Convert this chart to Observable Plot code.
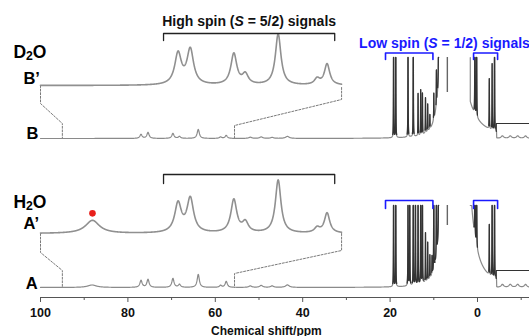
<!DOCTYPE html>
<html><head><meta charset="utf-8">
<script src="https://cdn.jsdelivr.net/npm/d3@7"></script>
<script src="https://cdn.jsdelivr.net/npm/@observablehq/plot@0.6"></script>
<style>html,body{margin:0;padding:0;background:#fff;overflow:hidden}</style>
</head><body><div id="chart"></div>
<script>
// ---------------- data ----------------
const majorTicks = [100, 80, 60, 40, 20, 0];
const minorTicks = [90, 70, 50, 30, 10, -10];
const sampleLabels = ["D₂O", "B’", "B", "H₂O", "A’", "A"];
const bracketLabels = ["High spin (S = 5/2) signals", "Low spin (S = 1/2) signals"];
const axisTitle = "Chemical shift/ppm";

// high-spin (S = 5/2) lines: position (ppm), half width (ppm), heights
const hsPpm     = [88.2, 77.0, 75.4, 69.7, 68.2, 63.9, 58.8, 57.5, 52.0, 49.5, 47.0, 43.5];
const hsWidth   = [1.2, 0.3, 0.3, 0.3, 0.3, 0.3, 0.3, 0.3, 0.4, 0.4, 0.4, 0.5];
const hsHeightB = [0, 4, 6, 5, 2, 9, 1.5, 3, 1.2, 1.5, 1, 2];
const hsHeightA = [2.5, 7, 8, 9, 3, 13, 2, 6, 1.5, 2, 1.5, 2.5];

// expanded traces B' and A' (window 95 – 55.6 ppm)
const expandWindow = [95, 55.6];
const expWidth   = [1.1, 0.52, 0.52, 0.47, 0.47, 0.44, 0.42, 0.42];
const expHeightB = [0, 31, 35, 31, 10, 51, 6, 21];
const expHeightA = [13, 29, 34, 33, 10, 53, 5, 20];

// low-spin (S = 1/2) lines (tall ones run off scale)
const lsPpm     = [19.2, 18.7, 15.9, 15.5, 14.7, 14.2, 13.6, 13.0, 12.6, 11.9, 11.4, 10.9, 10.4, 10.0, 9.4, 8.9, 0.6, 0.2, -2.7, -3.35, -3.9];
const lsHeightB = [120, 120, 120, 0, 120, 0, 42, 45, 41, 35, 27, 14, 0, 26, 34, 120, 120, 120, 50, 66, 120];
const lsHeightA = [120, 120, 120, 120, 120, 120, 120, 120, 120, 49, 38, 23, 18, 120, 120, 120, 120, 120, 50, 120, 120];
const lsWidth = 0.03;

// solvent wings either side of the blanked window (8.9 – 1.65 ppm)
const blankWindow = [8.9, 1.65];
const wingPpmB = [8.0, 5.8], wingWidthB = [0.8, 1.5], wingHeightB = [138, 320];
const wingPpmA = [8.0, 3.5], wingWidthA = [0.8, 1.2], wingHeightA = [130, 350];

// small lines high-field of -4.4 ppm
const tailPpm = [-5.7, -7.5, -9.2, -11.0];
const tailWidth = 0.35;
const tailHeightB = [2.5, 2.5, 2.5, 2.5];
const tailHeightA = [3, 3, 3, 3];

// off-scale step trace and truncated line
const stepPpm = [-4.3, -4.3, -11.9];
const stepHeightB = [7, 15, 15];
const stepHeightA = [9, 17, 17];
const truncPpm = 6.9;
const truncB = [46, 81];
const truncA = [62, 82];

// bracket windows (ppm)
const hsBracketPpm = [78.9, 56.5];            // in expanded window coordinates
const lsBracketPpm = [[21.05, 10.2], [0.9, -4.6]];

// ---------------- helpers ----------------
const K = (100 - 31.1) / (expandWindow[0] - expandWindow[1]);
const disp = p => 100 - (expandWindow[0] - p) * K;

function lorentz(p, pos, wid, hts) {
  let s = 0;
  for (let i = 0; i < pos.length; i++) {
    const h = hts[i]; if (!h) continue;
    const w = Array.isArray(wid) ? wid[i] : wid;
    const d = (p - pos[i]) / w;
    s += h / (1 + d * d);
  }
  return s;
}
function grid(from, to, step, extra = []) {
  const n = Math.round((from - to) / step);
  const pts = d3.range(n + 1).map(i => from - i * step);
  for (const e of extra) if (e <= from && e >= to) pts.push(e);
  return Array.from(new Set(pts.map(v => +v.toFixed(4)))).sort((a, b) => b - a);
}

function buildMain(c) {
  const lsSum = p => lorentz(p, lsPpm, lsWidth, c.ls);
  const body = p => lorentz(p, hsPpm, hsWidth, c.hs) + lsSum(p) + lorentz(p, tailPpm, tailWidth, c.tail);
  const pts = [];
  const push = (p, v, seg) => pts.push({x: p, y: c.base + Math.min(v, c.cap), seg, ls: lsSum(p)});
  const leftGrid = [...grid(100, 20.55, 0.05), ...grid(20.5, blankWindow[0], 0.01, lsPpm)];
  for (const p of leftGrid) push(p, body(p) + lorentz(p, [c.wingPpm[0]], [c.wingW[0]], [c.wingH[0]]), "L");
  push(blankWindow[1], c.cap, "R");
  for (const p of grid(blankWindow[1], -4.35, 0.01, lsPpm)) push(p, body(p) + lorentz(p, [c.wingPpm[1]], [c.wingW[1]], [c.wingH[1]]), "R");
  for (const p of grid(-4.4, -11.9, 0.05)) push(p, body(p), "R");
  return pts;
}
function buildExpanded(hts, base) {
  return grid(expandWindow[0], expandWindow[1], 0.02).map(p => ({x: disp(p), y: base + lorentz(p, hsPpm.slice(0, 8), expWidth, hts)}));
}

// trace baselines (intensity offsets)
const baseB2 = 212, baseB = 159, baseA2 = 64, baseA = 10;

const mainB = buildMain({hs: hsHeightB, ls: lsHeightB, tail: tailHeightB, wingPpm: wingPpmB, wingW: wingWidthB, wingH: wingHeightB, cap: 81, base: baseB});
const mainA = buildMain({hs: hsHeightA, ls: lsHeightA, tail: tailHeightA, wingPpm: wingPpmA, wingW: wingWidthA, wingH: wingHeightA, cap: 82, base: baseA});
const expB = buildExpanded(expHeightB, baseB2);
const expA = buildExpanded(expHeightA, baseA2);
const dark = arr => arr.map(d => ({...d, y: d.ls > 3 ? d.y : NaN}));

const e0 = disp(expandWindow[0]), e1 = disp(expandWindow[1]);
const connectors = [
  [[e0, baseB2], [e0, baseB2 - 18], [expandWindow[0], baseB + 15], [expandWindow[0], baseB]],
  [[e1, baseB2 - 2], [e1, baseB2 - 14], [expandWindow[1], baseB + 13], [expandWindow[1], baseB]],
  [[e0, baseA2], [e0, baseA2 - 19], [expandWindow[0], baseA + 17], [expandWindow[0], baseA]],
  [[e1, baseA2], [e1, baseA2 - 17], [expandWindow[1], baseA + 14], [expandWindow[1], baseA]]
].flatMap((pts, k) => pts.map(([x, y]) => ({x, y, k})));

const bracket = (x1, x2, bar, tick, k) => [[x1, tick], [x1, bar], [x2, bar], [x2, tick]].map(([x, y]) => ({x, y, k}));
const hsX1 = disp(hsBracketPpm[0]), hsX2 = disp(hsBracketPpm[1]);
const blackBrackets = [...bracket(hsX1, hsX2, 264, 257, 0), ...bracket(hsX1, hsX2, 123, 114, 1)];
const blueBrackets = [
  ...bracket(lsBracketPpm[0][0], lsBracketPpm[0][1], 244.5, 238, 0),
  ...bracket(lsBracketPpm[1][0], lsBracketPpm[1][1], 244.5, 238, 1),
  ...bracket(lsBracketPpm[0][0], lsBracketPpm[0][1], 97, 89, 2),
  ...bracket(lsBracketPpm[1][0], lsBracketPpm[1][1], 97, 89, 3)
];
const steps = [
  ...stepPpm.map((p, i) => ({x: p, y: baseB + stepHeightB[i], k: 0})),
  ...stepPpm.map((p, i) => ({x: p, y: baseA + stepHeightA[i], k: 1}))
];
const truncs = [{x: truncPpm, y1: baseB + truncB[0], y2: baseB + truncB[1]}, {x: truncPpm, y1: baseA + truncA[0], y2: baseA + truncA[1]}];

const labelPos = [[106.2, 240, 17.5], [103.9, 214, 16.5], [103.2, 159, 16.5], [106.2, 90, 17.5], [103.9, 69, 16.5], [103.4, 9, 16.5]];
const labels = sampleLabels.map((t, i) => ({t, x: labelPos[i][0], y: labelPos[i][1], s: labelPos[i][2]}));

const broadTop = baseA2 + lorentz(hsPpm[0], hsPpm.slice(0, 8), expWidth, expHeightA);

const GRAY = "#8a8a8a", DARK = "#333", BLUE = "#1a1aff";

const chart = Plot.plot({
  width: 529, height: 336,
  marginLeft: 40, marginRight: 0, marginTop: 0, marginBottom: 39,
  x: {domain: [100, -11.9], range: [40, 529]},
  y: {domain: [0, 297], range: [297, 0], axis: null},
  style: {fontFamily: "'Liberation Sans', Arial, sans-serif", background: "#fff", overflow: "visible"},
  marks: [
    Plot.axisX(majorTicks, {tickSize: 5, tickPadding: 6, fontSize: 12.5, fontWeight: "bold", color: "#111", stroke: "#555", label: null}),
    Plot.axisX(minorTicks, {tickSize: 3, tickFormat: () => "", stroke: "#555", label: null}),
    Plot.ruleY([0], {stroke: "#555"}),
    Plot.line(connectors, {x: "x", y: "y", z: "k", stroke: "#7a7a7a", strokeWidth: 1, strokeDasharray: "2,1.6"}),
    Plot.line(expB, {x: "x", y: "y", stroke: "#909090", strokeWidth: 1.6}),
    Plot.line(expA, {x: "x", y: "y", stroke: "#909090", strokeWidth: 1.6}),
    Plot.line(mainB, {x: "x", y: "y", z: "seg", stroke: GRAY, strokeWidth: 1.2}),
    Plot.line(mainA, {x: "x", y: "y", z: "seg", stroke: GRAY, strokeWidth: 1.2}),
    Plot.line(dark(mainB), {x: "x", y: "y", z: "seg", stroke: DARK, strokeWidth: 1.3}),
    Plot.line(dark(mainA), {x: "x", y: "y", z: "seg", stroke: DARK, strokeWidth: 1.3}),
    Plot.line(steps, {x: "x", y: "y", z: "k", stroke: DARK, strokeWidth: 1.2}),
    Plot.ruleX(truncs, {x: "x", y1: "y1", y2: "y2", stroke: "#666", strokeWidth: 1.4}),
    Plot.line(blackBrackets, {x: "x", y: "y", z: "k", stroke: "#222", strokeWidth: 1.3}),
    Plot.line(blueBrackets, {x: "x", y: "y", z: "k", stroke: BLUE, strokeWidth: 1.6}),
    Plot.dot([{x: disp(hsPpm[0]), y: broadTop + 7}], {x: "x", y: "y", r: 3.3, fill: "#e8201c", stroke: "none"}),
    Plot.text([bracketLabels[0]], {x: (hsX1 + hsX2) / 2, y: 271.3, text: d => d, fontSize: 14, fontWeight: "bold", fill: "#111", lineAnchor: "bottom"}),
    Plot.text([bracketLabels[1]], {x: 7.55, y: 250, text: d => d, fontSize: 14, fontWeight: "bold", fill: BLUE, lineAnchor: "bottom"}),
    Plot.text(labels, {x: "x", y: "y", text: "t", fontSize: "s", fontWeight: "bold", fill: "#000", textAnchor: "start", lineAnchor: "bottom"}),
    Plot.text([axisTitle], {x: 48.3, y: -37, text: d => d, fontSize: 12, fontWeight: "bold", fill: "#111", lineAnchor: "bottom"})
  ]
});

// italic S and real subscripts
d3.select(chart).selectAll("text").each(function () {
  const t = this.textContent;
  const sel = d3.select(this);
  let m = t.match(/^(.*\()S( = .*)$/);
  if (m) {
    sel.text(null);
    sel.append("tspan").text(m[1]);
    sel.append("tspan").attr("font-style", "italic").text("S");
    sel.append("tspan").text(m[2]);
    return;
  }
  if (t.includes("₂")) {
    const [a, b] = t.split("₂");
    sel.text(null);
    sel.append("tspan").text(a);
    sel.append("tspan").attr("font-size", "70%").attr("dy", 2.6).text("2");
    sel.append("tspan").attr("dy", -2.6).text(b);
  }
});

document.getElementById("chart").appendChild(chart);
</script>
</body></html>
